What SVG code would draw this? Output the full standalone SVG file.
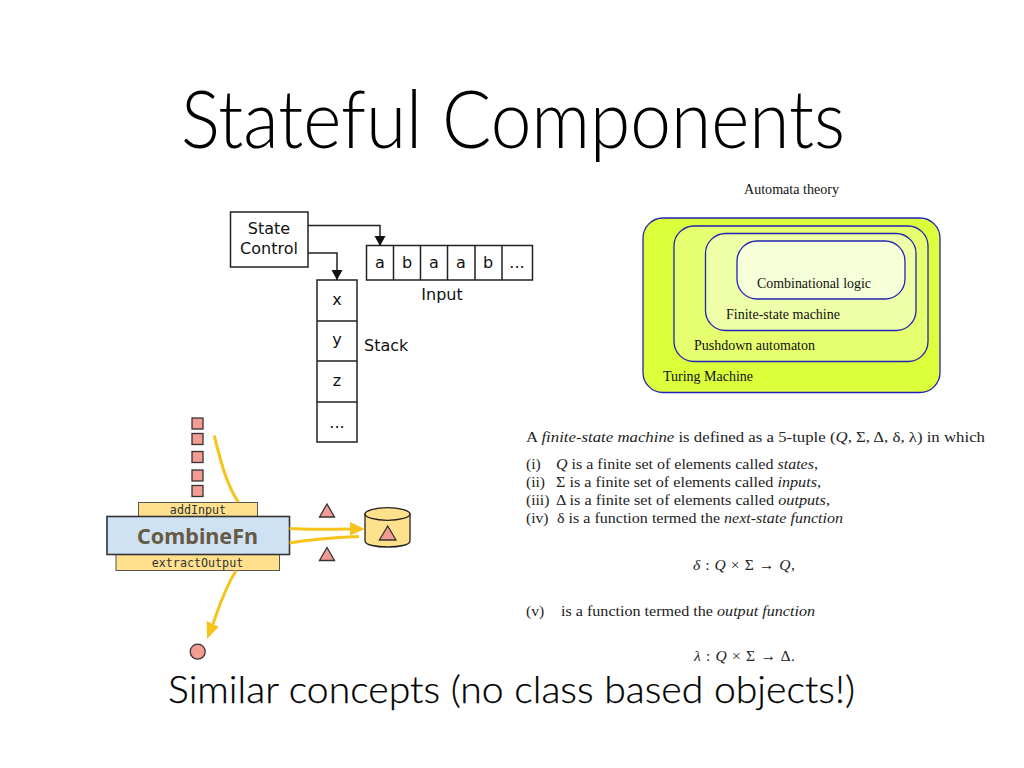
<svg xmlns="http://www.w3.org/2000/svg" width="1024" height="768" viewBox="0 0 1024 768">
<style>
.dj{font-family:"DejaVu Sans",sans-serif;font-size:16px;fill:#111}
.m{text-anchor:middle}
.box{fill:#fff;stroke:#222;stroke-width:1.5}
.auto{stroke:#2222b4;stroke-width:1.3}
.as{font-family:"Liberation Serif",serif;font-size:14.6px;fill:#111}
.ps{font-family:"Liberation Serif",serif;font-size:15.6px;fill:#222}
.i{font-style:italic}
.pk{fill:#f29c94;stroke:#333;stroke-width:1.3}
.ye{fill:#ffe08c;stroke:#555;stroke-width:1}
.mono{font-family:"DejaVu Sans Mono",monospace;font-size:11.7px;fill:#333;text-anchor:middle}
.flow{fill:none;stroke:#f6c31c;stroke-width:3}
.wire{fill:none;stroke:#222;stroke-width:1.5}
.big{font-family:"Lato",sans-serif;fill:#000}
</style>
<defs>
<marker id="ah" markerUnits="userSpaceOnUse" markerWidth="12" markerHeight="12" refX="10" refY="6" orient="auto"><path d="M0 0.500L10 6L0 11.500Z" fill="#111"/></marker>
</defs>
<rect width="1024" height="768" fill="#fff"/>
<g id="title"><text class="big" x="181" y="148" font-size="81" font-weight="300" textLength="664" lengthAdjust="spacingAndGlyphs">Stateful Components</text></g>
<g id="caption"><text class="big" x="168" y="703" font-size="38" font-weight="300" stroke="#000" stroke-width="0.25" textLength="687" lengthAdjust="spacingAndGlyphs">Similar concepts (no class based objects!)</text></g>

<g id="state-control"><rect class="box" x="230.500" y="212" width="77.500" height="55"/><text class="dj m" x="269" y="234">State</text><text class="dj m" x="269" y="254">Control</text></g>
<g id="input">
<rect class="box" x="366.500" y="245.500" width="166" height="34.500"/>
<path class="wire" d="M393.500 245.500V280M420.500 245.500V280M447.500 245.500V280M475 245.500V280M502 245.500V280"/>
<text class="dj m" x="380" y="268">a</text><text class="dj m" x="407" y="268">b</text><text class="dj m" x="434" y="268">a</text><text class="dj m" x="461" y="268">a</text><text class="dj m" x="488" y="268">b</text><text class="dj m" x="517" y="268">...</text>
<text class="dj m" x="442" y="300">Input</text>
</g>
<g id="stack">
<rect class="box" x="317" y="280" width="40" height="162"/>
<path class="wire" d="M317 321H357M317 361H357M317 402H357"/>
<text class="dj m" x="337" y="305">x</text><text class="dj m" x="337" y="345">y</text><text class="dj m" x="337" y="386">z</text><text class="dj m" x="337" y="428">...</text>
<text class="dj" x="364" y="351">Stack</text>
</g>

<g id="automata">
<text class="as" x="744" y="194" font-size="13.500" textLength="95" lengthAdjust="spacingAndGlyphs">Automata theory</text>
<rect class="auto" x="643" y="218" width="297" height="174.500" rx="20" fill="#dcff3c"/>
<rect class="auto" x="674" y="226" width="254" height="135.500" rx="20" fill="#e6ff6e"/>
<rect class="auto" x="705.500" y="233.500" width="210.500" height="97" rx="20" fill="#efffa8"/>
<rect class="auto" x="737" y="241" width="168" height="58" rx="20" fill="#f6ffd8"/>
<text class="as" x="757" y="288" textLength="114" lengthAdjust="spacingAndGlyphs">Combinational logic</text>
<text class="as" x="726" y="319" textLength="114" lengthAdjust="spacingAndGlyphs">Finite-state machine</text>
<text class="as" x="694" y="350" textLength="121" lengthAdjust="spacingAndGlyphs">Pushdown automaton</text>
<text class="as" x="663" y="381" textLength="90" lengthAdjust="spacingAndGlyphs">Turing Machine</text>
</g>

<g id="definition">
<text class="ps" x="526" y="442" textLength="459" lengthAdjust="spacingAndGlyphs">A  <tspan class="i">finite-state machine</tspan> is defined as a 5-tuple (<tspan class="i">Q</tspan>, Σ, Δ, δ, λ) in which</text>
<text class="ps" x="526" y="469">(i)</text><text class="ps" x="556" y="469" textLength="262" lengthAdjust="spacingAndGlyphs"><tspan class="i">Q</tspan> is a finite set of elements called <tspan class="i">states</tspan>,</text>
<text class="ps" x="526" y="487">(ii)</text><text class="ps" x="556" y="487" textLength="265" lengthAdjust="spacingAndGlyphs">Σ is a finite set of elements called <tspan class="i">inputs</tspan>,</text>
<text class="ps" x="526" y="505">(iii)</text><text class="ps" x="556" y="505" textLength="274" lengthAdjust="spacingAndGlyphs">Δ is a finite set of elements called <tspan class="i">outputs</tspan>,</text>
<text class="ps" x="526" y="523">(iv)</text><text class="ps" x="557" y="523" textLength="286" lengthAdjust="spacingAndGlyphs">δ is a function termed the <tspan class="i">next-state function</tspan></text>
<text class="ps" x="693" y="570" textLength="102" lengthAdjust="spacing"><tspan class="i">δ</tspan> : <tspan class="i">Q</tspan> × Σ → <tspan class="i">Q</tspan>,</text>
<text class="ps" x="526" y="616">(v)</text><text class="ps" x="561" y="616" textLength="254" lengthAdjust="spacingAndGlyphs">is a function termed the <tspan class="i">output function</tspan></text>
<text class="ps" x="694" y="661" textLength="101" lengthAdjust="spacing"><tspan class="i">λ</tspan> : <tspan class="i">Q</tspan> × Σ → Δ.</text>
</g>

<g id="elements">
<rect class="pk" x="192" y="418" width="11" height="11"/>
<rect class="pk" x="192" y="433.500" width="11" height="11"/>
<rect class="pk" x="192" y="451.500" width="11" height="11"/>
<rect class="pk" x="192" y="470" width="11" height="11"/>
<rect class="pk" x="192" y="485.500" width="11" height="11"/>
</g>
<g id="add-input"><rect class="ye" x="138.500" y="502.500" width="119" height="15"/><text class="mono" x="198" y="514">addInput</text></g>
<g id="extract-output"><rect class="ye" x="116" y="554" width="163.500" height="16.500"/><text class="mono" x="197.500" y="567">extractOutput</text></g>
<g id="combine-fn"><rect x="107" y="516.500" width="182.500" height="38" fill="#cfe2f3" stroke="#333" stroke-width="1.600"/><text x="197.500" y="544" font-family="Noto Sans,sans-serif" font-weight="700" font-size="21.500" fill="#665a44" text-anchor="middle" textLength="121" lengthAdjust="spacingAndGlyphs">CombineFn</text></g>
<g id="triangle-top"><path class="pk" d="M327 504L334.500 517H319.500Z"/></g>
<g id="triangle-bottom"><path class="pk" d="M327 547.500L334.500 560.500H319.500Z"/></g>
<g id="store">
<path d="M365 514V541C365 549 410 549 410 541V514Z" fill="#ffe08c" stroke="#222" stroke-width="1.300"/>
<ellipse cx="387.500" cy="514" rx="22.500" ry="6.300" fill="#ffe08c" stroke="#222" stroke-width="1.300"/>
<path class="pk" d="M387.700 526L396 540H379.400Z"/>
</g>
<g id="result"><circle class="pk" cx="197.700" cy="651.700" r="7.500"/></g>

<g id="connectors">
<path class="wire" marker-end="url(#ah)" d="M308 225.500H380V246"/>
<path class="wire" marker-end="url(#ah)" d="M308 253H337V280"/>
<path class="flow" d="M214.300 435.700C220 458 226 484 238.300 502"/>
<path class="flow" d="M236 570.700C227 585 220 603 213 624"/>
<path d="M207 639L206.700 621L218.700 626.700Z" fill="#f6c31c"/>
<path class="flow" d="M289.500 528.500C310 530 330 529 351 529"/>
<path d="M365 529L350 522V535.500Z" fill="#f6c31c"/>
<path class="flow" d="M289.500 543C310 539.500 335 537.500 359 536.500"/>
</g>
</svg>
